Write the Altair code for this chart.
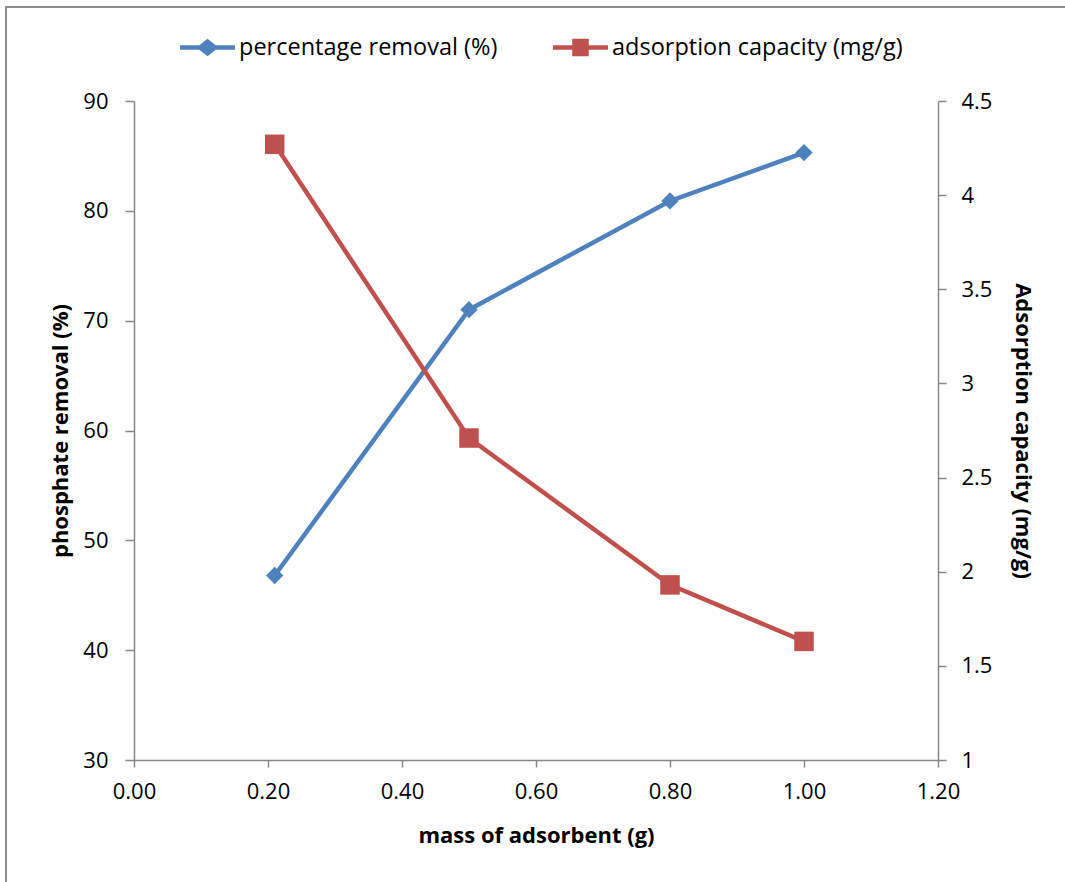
import altair as alt
import pandas as pd

# Batch adsorption: effect of adsorbent dose on phosphate uptake
mass_g = [0.21, 0.50, 0.80, 1.00]
removal_pct = [46.8, 71.0, 80.9, 85.3]
capacity_mg_g = [4.27, 2.71, 1.93, 1.63]

series_names = ["percentage removal (%)", "adsorption capacity (mg/g)"]
series_colors = ["#4F81BD", "#C0504D"]

x_ticks = [0.0, 0.2, 0.4, 0.6, 0.8, 1.0, 1.2]
left_ticks = [30, 40, 50, 60, 70, 80, 90]
right_ticks = [1, 1.5, 2, 2.5, 3, 3.5, 4, 4.5]

removal_df = pd.DataFrame({"mass": mass_g, "value": removal_pct})
capacity_df = pd.DataFrame({"mass": mass_g, "value": capacity_mg_g})
# Key-only rows, placed outside the x domain and clipped away
legend_df = pd.DataFrame({"mass": [-1.0, -1.0], "value": [50.0, 50.0],
                          "series": series_names})

AXIS_GREY = "#868686"
FONT = "Open Sans"

x_enc = alt.X(
    "mass:Q",
    scale=alt.Scale(domain=[0, 1.2], nice=False, zero=False),
    axis=alt.Axis(values=x_ticks, format=".2f", title="mass of adsorbent (g)",
                  titlePadding=23, labelPadding=14, tickSize=7, labelFlush=False),
)

left_y = alt.Y(
    "value:Q",
    scale=alt.Scale(domain=[30, 90], nice=False, zero=False),
    axis=alt.Axis(values=left_ticks, title="phosphate removal (%)", orient="left",
                  titlePadding=10, labelPadding=17, tickSize=9, labelFlush=False),
)

right_y = alt.Y(
    "value:Q",
    scale=alt.Scale(domain=[1, 4.5], nice=False, zero=False),
    axis=alt.Axis(values=right_ticks, format="~g", title="Adsorption capacity (mg/g)",
                  orient="right", titlePadding=19, labelPadding=15, tickSize=8,
                  labelFlush=False),
)

blue_line = alt.Chart(removal_df).mark_line(color=series_colors[0], strokeWidth=4.5).encode(x=x_enc, y=left_y)
blue_pts = alt.Chart(removal_df).mark_point(
    shape="diamond", filled=True, size=300, opacity=1, color=series_colors[0]
).encode(x=x_enc, y=left_y)

# Legend entries: combined line + marker glyphs
line_diamond = "M-1,-0.08H-0.3L0,-0.32L0.3,-0.08H1V0.08H0.3L0,0.32L-0.3,0.08H-1Z"
line_square = "M-1,-0.08H-0.3V-0.32H0.3V-0.08H1V0.08H0.3V0.32H-0.3V0.08H-1Z"
legend_layer = alt.Chart(legend_df).mark_point(filled=True, opacity=1, clip=True).encode(
    x=x_enc,
    y=left_y,
    color=alt.Color("series:N", scale=alt.Scale(domain=series_names, range=series_colors),
                    legend=alt.Legend(title=None, orient="none", direction="horizontal",
                                      legendX=46, legendY=-81, symbolSize=3025,
                                      symbolOpacity=1, symbolStrokeWidth=0,
                                      labelFontSize=23.5, labelFont=FONT, labelOffset=4,
                                      columnPadding=55, labelLimit=400)),
    shape=alt.Shape("series:N", scale=alt.Scale(domain=series_names, range=[line_diamond, line_square])),
)

left_layer = alt.layer(blue_line, blue_pts, legend_layer)

red_line = alt.Chart(capacity_df).mark_line(color=series_colors[1], strokeWidth=4.5).encode(x=x_enc, y=right_y)
red_pts = alt.Chart(capacity_df).mark_point(
    shape="square", filled=True, size=380, opacity=1, color=series_colors[1]
).encode(x=x_enc, y=right_y)
right_layer = alt.layer(red_line, red_pts)

# Outer frame around the whole figure
frame = alt.Chart(pd.DataFrame({"k": [0]})).mark_rect(
    fill=None, stroke="#8c8c8c", strokeWidth=2
).encode(x=alt.value(-128), x2=alt.value(940), y=alt.value(-94), y2=alt.value(800))

chart = alt.layer(left_layer, right_layer, frame).resolve_scale(
    y="independent"
).properties(
    width=804, height=659,
    autosize=alt.AutoSizeParams(type="none"),
    padding={"left": 134, "top": 101, "right": 127, "bottom": 122},
).configure_view(stroke=None).configure_axis(
    grid=False,
    domainColor=AXIS_GREY, domainWidth=1.5,
    tickColor=AXIS_GREY, tickWidth=1.5,
    labelFont=FONT, labelFontSize=22, labelColor="#000000",
    titleFont=FONT, titleFontSize=22, titleFontWeight="bold", titleColor="#000000",
)

chart.save("out.html", embed_options={"renderer": "svg", "actions": False})
